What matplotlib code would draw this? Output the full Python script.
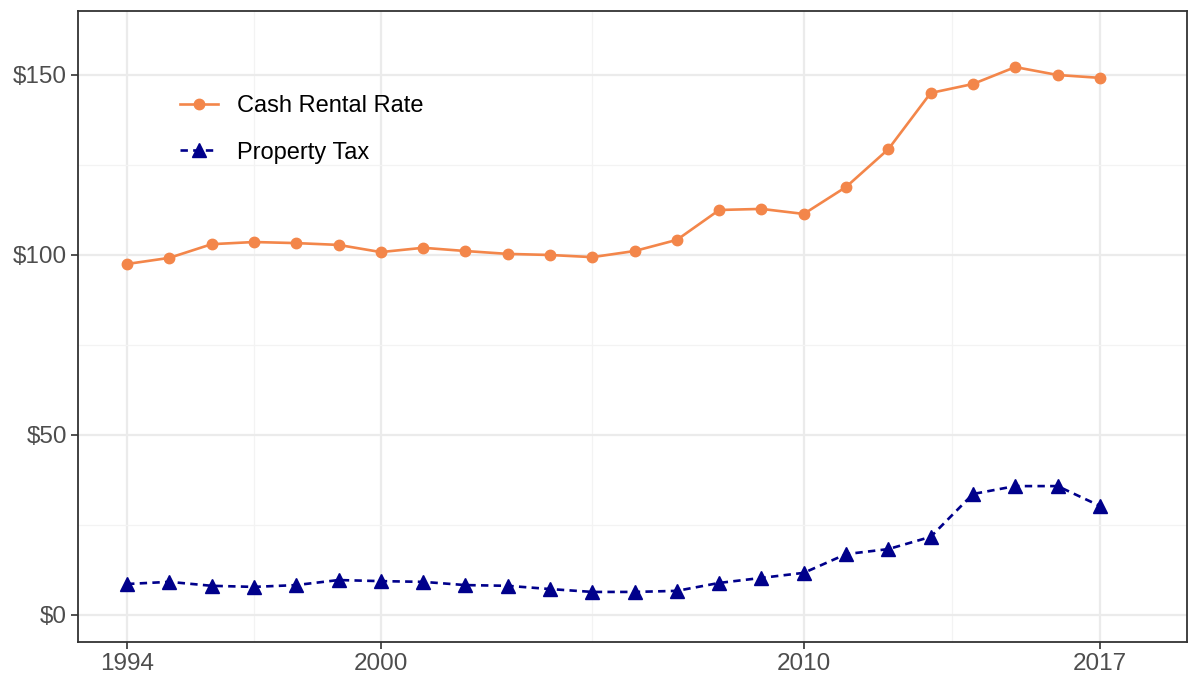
import matplotlib
matplotlib.use("Agg")
import matplotlib.pyplot as plt
from matplotlib.ticker import FixedLocator, FuncFormatter

years = list(range(1994, 2018))
cash_rent = [97.5, 99.2, 103.0, 103.6, 103.3, 102.8, 100.8, 102.0, 101.1, 100.3,
             100.0, 99.4, 101.1, 104.2, 112.5, 112.8, 111.4, 118.9, 129.4, 145.0,
             147.5, 152.2, 150.0, 149.2]
property_tax = [8.6, 9.2, 8.1, 7.8, 8.3, 9.7, 9.4, 9.2, 8.3, 8.1,
                7.2, 6.4, 6.4, 6.7, 8.9, 10.3, 11.7, 16.9, 18.3, 21.7,
                33.6, 35.8, 35.8, 30.3]
x_major = [1994, 2000, 2010, 2017]
x_minor = [1997, 2005, 2013.5]
y_major = [0, 50, 100, 150]
y_minor = [25, 75, 125]

plt.rcParams['font.family'] = ['Liberation Sans', 'DejaVu Sans']

fig = plt.figure(figsize=(11.89, 6.82), dpi=100)
ax = fig.add_axes([0.0656, 0.0587, 0.9327, 0.9253])

orange = '#F3864A'
navy = '#00008B'

ax.plot(years, cash_rent, color=orange, lw=1.9, marker='o', ms=7.5,
        label='Cash Rental Rate', zorder=3)
ax.plot(years, property_tax, color=navy, lw=1.9, ls=(0, (2.8, 2.0)), marker='^',
        ms=9.5, label='Property Tax', zorder=3)

ax.set_xlim(1992.84, 2019.06)
ax.set_ylim(-7.5, 167.8)

ax.xaxis.set_major_locator(FixedLocator(x_major))
ax.xaxis.set_minor_locator(FixedLocator(x_minor))
ax.yaxis.set_major_locator(FixedLocator(y_major))
ax.yaxis.set_minor_locator(FixedLocator(y_minor))
ax.yaxis.set_major_formatter(FuncFormatter(lambda v, p: f"${v:.0f}"))

ax.grid(which='major', color='#EBEBEB', lw=1.6, zorder=0)
ax.grid(which='minor', color='#F3F3F3', lw=0.9, zorder=0)
ax.set_axisbelow(True)

ax.tick_params(which='major', length=5, width=1.2, color='#333333',
               labelsize=17.5, labelcolor='#4D4D4D', pad=3)
ax.tick_params(which='minor', length=0)

for s in ax.spines.values():
    s.set_color('#333333')
    s.set_linewidth(1.3)

leg = ax.legend(loc='upper left', bbox_to_anchor=(0.092, 0.867), frameon=False,
                fontsize=17, handlelength=1.6, handletextpad=0.8, labelspacing=1.05,
                borderpad=0, borderaxespad=0)

fig.savefig('out.png', dpi=100)
